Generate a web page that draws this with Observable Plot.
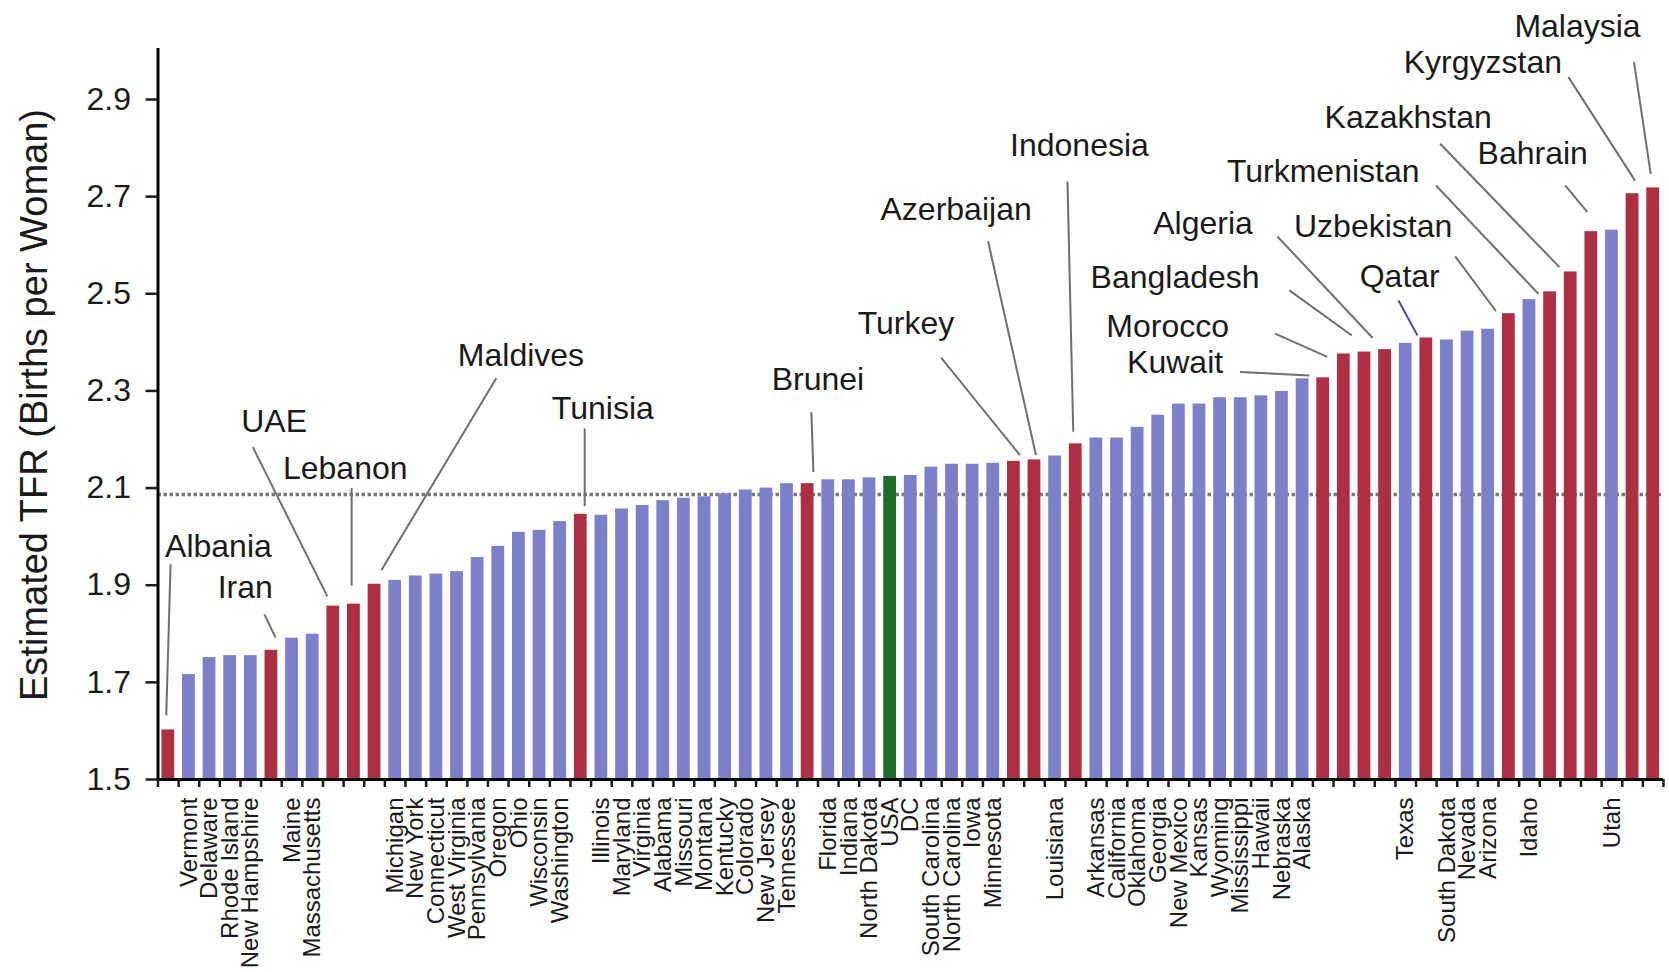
<!DOCTYPE html>
<html>
<head>
<meta charset="utf-8">
<script src="https://cdn.jsdelivr.net/npm/d3@7"></script>
<script src="https://cdn.jsdelivr.net/npm/@observablehq/plot@0.6"></script>
<style>
  html, body { margin: 0; padding: 0; background: #fff; overflow: hidden; }
  #chart svg { display: block; }
</style>
</head>
<body>
<div id="chart"></div>
<script>
// ---- Data ----
const names = ["Albania","Vermont","Delaware","Rhode Island","New Hampshire","Iran","Maine","Massachusetts","UAE","Lebanon","Maldives","Michigan","New York","Connecticut","West Virginia","Pennsylvania","Oregon","Ohio","Wisconsin","Washington","Tunisia","Illinois","Maryland","Virginia","Alabama","Missouri","Montana","Kentucky","Colorado","New Jersey","Tennessee","Brunei","Florida","Indiana","North Dakota","USA","DC","South Carolina","North Carolina","Iowa","Minnesota","Turkey","Azerbaijan","Louisiana","Indonesia","Arkansas","California","Oklahoma","Georgia","New Mexico","Kansas","Wyoming","Mississippi","Hawaii","Nebraska","Alaska","Kuwait","Morocco","Bangladesh","Algeria","Texas","Qatar","South Dakota","Nevada","Arizona","Uzbekistan","Idaho","Turkmenistan","Kazakhstan","Bahrain","Utah","Kyrgyzstan","Malaysia"];

const values = [1.602,1.716,1.751,1.755,1.755,1.766,1.791,1.799,1.857,1.861,1.902,1.910,1.919,1.923,1.928,1.957,1.980,2.009,2.013,2.031,2.046,2.044,2.057,2.064,2.074,2.079,2.082,2.088,2.096,2.100,2.109,2.109,2.117,2.117,2.121,2.124,2.126,2.143,2.149,2.149,2.151,2.155,2.158,2.166,2.191,2.203,2.203,2.225,2.250,2.273,2.273,2.286,2.286,2.290,2.299,2.325,2.327,2.376,2.380,2.385,2.398,2.409,2.405,2.423,2.427,2.459,2.488,2.504,2.545,2.628,2.631,2.706,2.718];

const countries = ["Albania","Iran","UAE","Lebanon","Maldives","Tunisia","Brunei","Turkey","Azerbaijan","Indonesia","Kuwait","Morocco","Bangladesh","Algeria","Qatar","Uzbekistan","Turkmenistan","Kazakhstan","Bahrain","Kyrgyzstan","Malaysia"];
const nationalTotal = "USA";

const replacementLevel = 2.087;
const yTicks = [1.5, 1.7, 1.9, 2.1, 2.3, 2.5, 2.7, 2.9];
const yLabel = "Estimated TFR (Births per Woman)";

// Annotation labels for countries (label anchor and leader line, in data units: bar index / TFR)
const annLabel = ["Albania","Iran","UAE","Lebanon","Maldives","Tunisia","Brunei","Turkey","Azerbaijan","Indonesia","Kuwait","Morocco","Bangladesh","Algeria","Uzbekistan","Qatar","Turkmenistan","Kazakhstan","Bahrain","Kyrgyzstan","Malaysia"];
const annTextX = [2.43,3.73,5.13,8.58,17.1,21.07,31.5,35.77,38.2,44.18,48.82,48.46,48.82,50.17,58.42,59.71,56.0,60.12,66.16,63.74,68.33];
const annTextY = [1.980,1.894,2.236,2.140,2.372,2.264,2.324,2.438,2.672,2.804,2.357,2.433,2.532,2.644,2.637,2.536,2.751,2.863,2.788,2.975,3.049];
const annX1 = [0.11,4.66,4.10,8.89,15.9,20.19,31.18,37.48,39.75,43.6,51.97,53.67,54.36,53.78,62.4,59.65,61.47,61.67,67.73,67.89,71.07];
const annY1 = [1.943,1.840,2.184,2.100,2.326,2.223,2.256,2.368,2.608,2.731,2.339,2.418,2.507,2.618,2.577,2.486,2.723,2.809,2.723,2.946,2.977];
const annX2 = [-0.10,5.20,7.71,8.89,10.33,20.19,31.28,41.29,42.07,43.88,55.33,56.2,57.39,58.4,64.38,60.57,66.43,67.45,68.81,71.12,71.88];
const annY2 = [1.632,1.792,1.877,1.899,1.931,2.063,2.133,2.168,2.168,2.216,2.332,2.370,2.414,2.409,2.464,2.414,2.500,2.555,2.668,2.733,2.747];

// ---- Build tables ----
const bars = names.map((n, i) => ({
  i, name: n, v: values[i],
  group: n === nationalTotal ? "usa" : (countries.includes(n) ? "country" : "state")
}));
const ann = annLabel.map((l, k) => ({
  label: l, tx: annTextX[k], ty: annTextY[k],
  x1: annX1[k], y1: annY1[k], x2: annX2[k], y2: annY2[k],
  stroke: l === "Qatar" ? "#4b4b92" : "#6f6f6f"
}));
const n = names.length;
const xMin = -0.5, xMax = n - 0.5;
const boundaries = d3.range(n + 1).map(k => k - 0.5);
const labelTicks = bars.filter(d => d.group !== "country").map(d => d.i);

const colors = {country: "#ad2f44", state: "#7b80c8", usa: "#1c7029"};
const half = 0.31;
const ink = "#1a1a1a";

const chart = Plot.plot({
  width: 1669,
  height: 972,
  marginLeft: 157.5,
  marginRight: 6,
  marginTop: 48,
  marginBottom: 193,
  style: {fontFamily: "'Liberation Sans', Arial, Helvetica, sans-serif", background: "#fff", color: ink},
  x: {domain: [xMin, xMax]},
  y: {domain: [1.5, 3.005]},
  color: {type: "identity"},
  marks: [
    Plot.ruleY([replacementLevel], {x1: xMin, x2: xMax, stroke: "#7a7a7a", strokeWidth: 3.5, strokeDasharray: "3.5,2.5"}),
    ...["state", "country", "usa"].map(g =>
      Plot.rect(bars.filter(d => d.group === g), {
        x1: d => d.i - half, x2: d => d.i + half,
        y1: () => 1.5, y2: "v",
        fill: colors[g]
      })
    ),
    Plot.link(ann, {x1: "x1", y1: "y1", x2: "x2", y2: "y2", stroke: "stroke", strokeWidth: 2}),
    Plot.text(ann, {x: "tx", y: "ty", text: "label", fontSize: 32, fill: ink}),
    // axes
    Plot.ruleX([xMin], {y1: () => 1.5, y2: () => 3.005, stroke: "#000", strokeWidth: 3}),
    Plot.ruleY([1.5], {x1: xMin, x2: xMax, stroke: "#000", strokeWidth: 3}),
    Plot.axisY({ticks: yTicks, tickSize: 12, tickPadding: 15, fontSize: 32, strokeWidth: 2.5,
      tickFormat: d3.format(".1f"), label: null, fill: ink}),
    Plot.axisX({ticks: boundaries, tickSize: 8, strokeWidth: 2.5, tickFormat: () => "", label: null}),
    Plot.axisX(labelTicks, {tickSize: 0, tickPadding: 18, tickRotate: -90, fontSize: 24,
      tickFormat: i => names[i], label: null, fill: ink}),
    Plot.text([yLabel], {frameAnchor: "left", text: d => d, rotate: -90, textAnchor: "middle",
      dx: -123, dy: -9, fontSize: 38, fill: ink})
  ]
});
document.getElementById("chart").appendChild(chart);
</script>
</body>
</html>
